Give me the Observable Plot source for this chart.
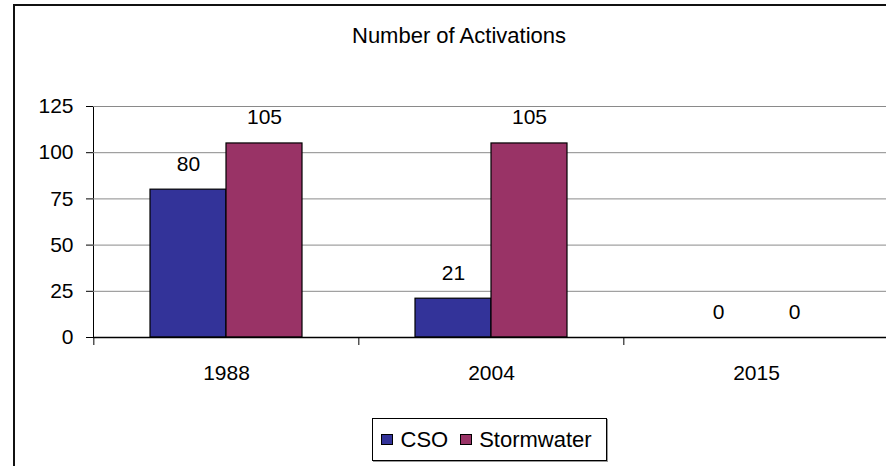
<!DOCTYPE html>
<html><head><meta charset="utf-8">
<script src="https://cdn.jsdelivr.net/npm/d3@7"></script>
<script src="https://cdn.jsdelivr.net/npm/@observablehq/plot@0.6"></script>
<style>
html,body{margin:0;padding:0;background:#fff;overflow:hidden;}
#wrap{position:relative;width:886px;height:466px;overflow:hidden;font-family:"Liberation Sans",Arial,sans-serif;color:#000;}
#frame{position:absolute;left:13px;top:4px;width:1000px;height:1000px;border-left:2px solid #111;border-top:2px solid #111;}
#title{position:absolute;left:0;width:918px;top:25px;text-align:center;font-size:22px;line-height:1;}
#legend{position:absolute;left:372px;top:418px;border:1px solid #000;box-shadow:1px 1px 0 #999;display:flex;align-items:center;font-size:22px;line-height:1;padding-left:8px;box-sizing:border-box;width:235px;height:43px;}
.sw{display:inline-block;width:10px;height:9px;border:1.5px solid #000;margin-right:7.5px;}
.item{display:flex;align-items:center;margin-right:11.5px;}
svg{position:absolute;left:0;top:0;}
</style>
</head><body>
<div id="wrap"><div id="frame"></div></div>
<script>
const title = "Number of Activations";
const years = ["1988", "2004", "2015"];
const series = ["CSO", "Stormwater"];
const colors = ["#333399", "#993366"];
const csoValues = [80, 21, 0];
const stormwaterValues = [105, 105, 0];
const yTicks = [0, 25, 50, 75, 100, 125];

const rows = years.map((y, i) => ({year: y, cso: csoValues[i], storm: stormwaterValues[i]}));
const step = (889 - 93) / years.length;

const chart = Plot.plot({
  width: 886, height: 466,
  marginTop: 106, marginBottom: 129, marginLeft: 93, marginRight: 0,
  style: {fontFamily: '"Liberation Sans", Arial, sans-serif', fontSize: "21px", color: "#000", background: "transparent", overflow: "visible"},
  x: {domain: years, range: [93, 889], paddingInner: 0.427, paddingOuter: 0.2135, tickSize: 0, tickPadding: 28, label: null},
  y: {domain: [0, 125], ticks: yTicks, tickSize: 7, tickPadding: 13, label: null, line: true},
  marks: [
    Plot.ruleY(yTicks.filter(t => t > 0), {stroke: "#8a8a8a", strokeWidth: 1}),
    Plot.barY(rows, {x: "year", y: "cso", fill: colors[0], stroke: "#000", strokeWidth: 1.2, insetRight: 76, filter: d => d.cso > 0}),
    Plot.barY(rows, {x: "year", y: "storm", fill: colors[1], stroke: "#000", strokeWidth: 1.2, insetLeft: 76, filter: d => d.storm > 0}),
    Plot.text(rows, {x: "year", y: "cso", text: d => String(d.cso), dx: -38, dy: -19, lineAnchor: "bottom", fill: "#000"}),
    Plot.text(rows, {x: "year", y: "storm", text: d => String(d.storm), dx: 38, dy: -19, lineAnchor: "bottom", fill: "#000"}),
    Plot.ruleY([0], {stroke: "#000", strokeWidth: 1.5}),
    Plot.ruleX(years, {x: d => d, y1: 0, y2: 0, insetBottom: -8, dx: -step / 2, stroke: "#000"})
  ]
});
const wrap = document.getElementById("wrap");
wrap.appendChild(chart);

const t = document.createElement("div");
t.id = "title"; t.textContent = title;
wrap.appendChild(t);

const lg = document.createElement("div");
lg.id = "legend";
series.forEach((s, i) => {
  const it = document.createElement("span");
  it.className = "item";
  const sw = document.createElement("span");
  sw.className = "sw"; sw.style.background = colors[i];
  it.appendChild(sw);
  it.appendChild(document.createTextNode(s));
  lg.appendChild(it);
});
wrap.appendChild(lg);
</script>
</body></html>
